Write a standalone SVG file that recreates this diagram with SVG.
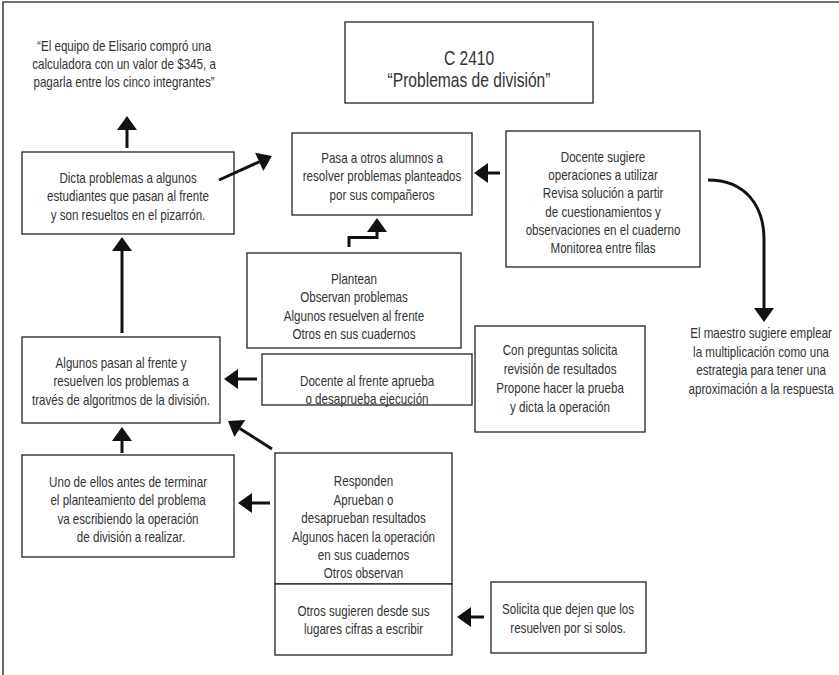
<svg xmlns="http://www.w3.org/2000/svg" width="839" height="675" viewBox="0 0 839 675">
<style>
  .box { fill: #fff; stroke: #222; stroke-width: 1.3; }
  .t { font-family: "Liberation Sans", Arial, sans-serif; font-size: 14.5px; fill: #333; text-anchor: middle; transform-box: fill-box; transform-origin: center; transform: scaleX(0.8); }
  .title { font-size: 19.5px; }
  .frame { stroke: #444; stroke-width: 1.6; fill: none; }
  .arr { stroke: #111; stroke-width: 3; fill: none; marker-end: url(#ah); }
</style>
<defs>
  <marker id="ah" markerUnits="userSpaceOnUse" markerWidth="14" markerHeight="20" viewBox="0 -10 14 20" refX="0" refY="0" orient="auto" overflow="visible">
    <path d="M0,-10 L14,0 L0,10 Z" fill="#111"/>
  </marker>
</defs>
<rect width="839" height="675" fill="#fff"/>
<path class="frame" d="M3,675 V2 H839"/>

<g id="title">
  <rect class="box" x="345" y="22" width="248" height="81"/>
  <text class="t title" x="469" y="65">C 2410</text>
  <text class="t title" x="469" y="87">“Problemas de división”</text>
</g>

<g id="quote">
  <text class="t" x="124" y="51">“El equipo de Elisario compró una</text>
  <text class="t" x="124" y="69">calculadora con un valor de $345, a</text>
  <text class="t" x="124" y="87">pagarla entre los cinco integrantes”</text>
</g>

<g id="dicta">
  <rect class="box" x="22" y="152" width="212" height="82"/>
  <text class="t" x="128" y="183">Dicta problemas a algunos</text>
  <text class="t" x="128" y="201">estudiantes que pasan al frente</text>
  <text class="t" x="128" y="220">y son resueltos en el pizarrón.</text>
</g>

<g id="pasa">
  <rect class="box" x="292" y="133" width="180" height="82"/>
  <text class="t" x="382" y="163">Pasa a otros alumnos a</text>
  <text class="t" x="382" y="181">resolver problemas planteados</text>
  <text class="t" x="382" y="200">por sus compañeros</text>
</g>

<g id="docente">
  <rect class="box" x="506" y="131" width="194" height="136"/>
  <text class="t" x="603" y="162">Docente sugiere</text>
  <text class="t" x="603" y="180">operaciones a utilizar</text>
  <text class="t" x="603" y="198">Revisa solución a partir</text>
  <text class="t" x="603" y="217">de cuestionamientos y</text>
  <text class="t" x="603" y="235">observaciones en el cuaderno</text>
  <text class="t" x="603" y="253">Monitorea entre filas</text>
</g>

<g id="maestro">
  <text class="t" x="761" y="338">El maestro sugiere emplear</text>
  <text class="t" x="761" y="357">la multiplicación como una</text>
  <text class="t" x="761" y="375">estrategia para tener una</text>
  <text class="t" x="761" y="394">aproximación a la respuesta</text>
</g>

<g id="plantean">
  <rect class="box" x="247" y="253" width="214" height="95"/>
  <text class="t" x="354" y="284">Plantean</text>
  <text class="t" x="354" y="302">Observan problemas</text>
  <text class="t" x="354" y="321">Algunos resuelven al frente</text>
  <text class="t" x="354" y="339">Otros en sus cuadernos</text>
</g>

<g id="algunos">
  <rect class="box" x="22" y="337" width="198" height="86"/>
  <text class="t" x="121" y="368">Algunos pasan al frente y</text>
  <text class="t" x="121" y="386">resuelven los problemas a</text>
  <text class="t" x="121" y="405">través de algoritmos de la división.</text>
</g>

<g id="docente-frente">
  <rect class="box" x="262" y="354" width="210" height="51"/>
  <text class="t" x="367" y="386">Docente al frente aprueba</text>
  <text class="t" x="367" y="404">o desaprueba ejecución</text>
</g>

<g id="preguntas">
  <rect class="box" x="475" y="326" width="170" height="106"/>
  <text class="t" x="560" y="355">Con preguntas solicita</text>
  <text class="t" x="560" y="374">revisión de resultados</text>
  <text class="t" x="560" y="393">Propone hacer la prueba</text>
  <text class="t" x="560" y="412">y dicta la operación</text>
</g>

<g id="uno">
  <rect class="box" x="22" y="455" width="212" height="102"/>
  <text class="t" x="128" y="487">Uno de ellos antes de terminar</text>
  <text class="t" x="128" y="505">el planteamiento del problema</text>
  <text class="t" x="128" y="524">va escribiendo la operación</text>
  <text class="t" x="131" y="542">de división a realizar.</text>
</g>

<g id="responden">
  <rect class="box" x="275" y="453" width="177" height="131"/>
  <text class="t" x="363.5" y="486">Responden</text>
  <text class="t" x="363.5" y="505">Aprueban o</text>
  <text class="t" x="363.5" y="523">desaprueban resultados</text>
  <text class="t" x="363.5" y="542">Algunos hacen la operación</text>
  <text class="t" x="363.5" y="560">en sus cuadernos</text>
  <text class="t" x="363.5" y="578">Otros observan</text>
</g>

<g id="otros">
  <rect class="box" x="275" y="584" width="177" height="71"/>
  <text class="t" x="363.5" y="616">Otros sugieren desde sus</text>
  <text class="t" x="363.5" y="634">lugares cifras a escribir</text>
</g>

<g id="solicita">
  <rect class="box" x="491" y="582" width="155" height="71"/>
  <text class="t" x="568" y="614">Solicita que dejen que los</text>
  <text class="t" x="568" y="633">resuelven por si solos.</text>
</g>

<g id="connectors">
  <path class="arr" d="M127,148 V130"/>
  <path class="arr" d="M219,180 L259.2,161.8"/>
  <path class="arr" d="M122,333 V251"/>
  <path class="arr" d="M500,173 H488"/>
  <path class="arr" d="M349,247 V237.5 H377 V232"/>
  <path class="arr" d="M708,180 C745,180 764,205 764,240 V308"/>
  <path class="arr" d="M257,379 H238"/>
  <path class="arr" d="M272,449 L239.8,428.5"/>
  <path class="arr" d="M122,453 V441"/>
  <path class="arr" d="M270,503 H252"/>
  <path class="arr" d="M484,617 H471"/>
</g>
</svg>
